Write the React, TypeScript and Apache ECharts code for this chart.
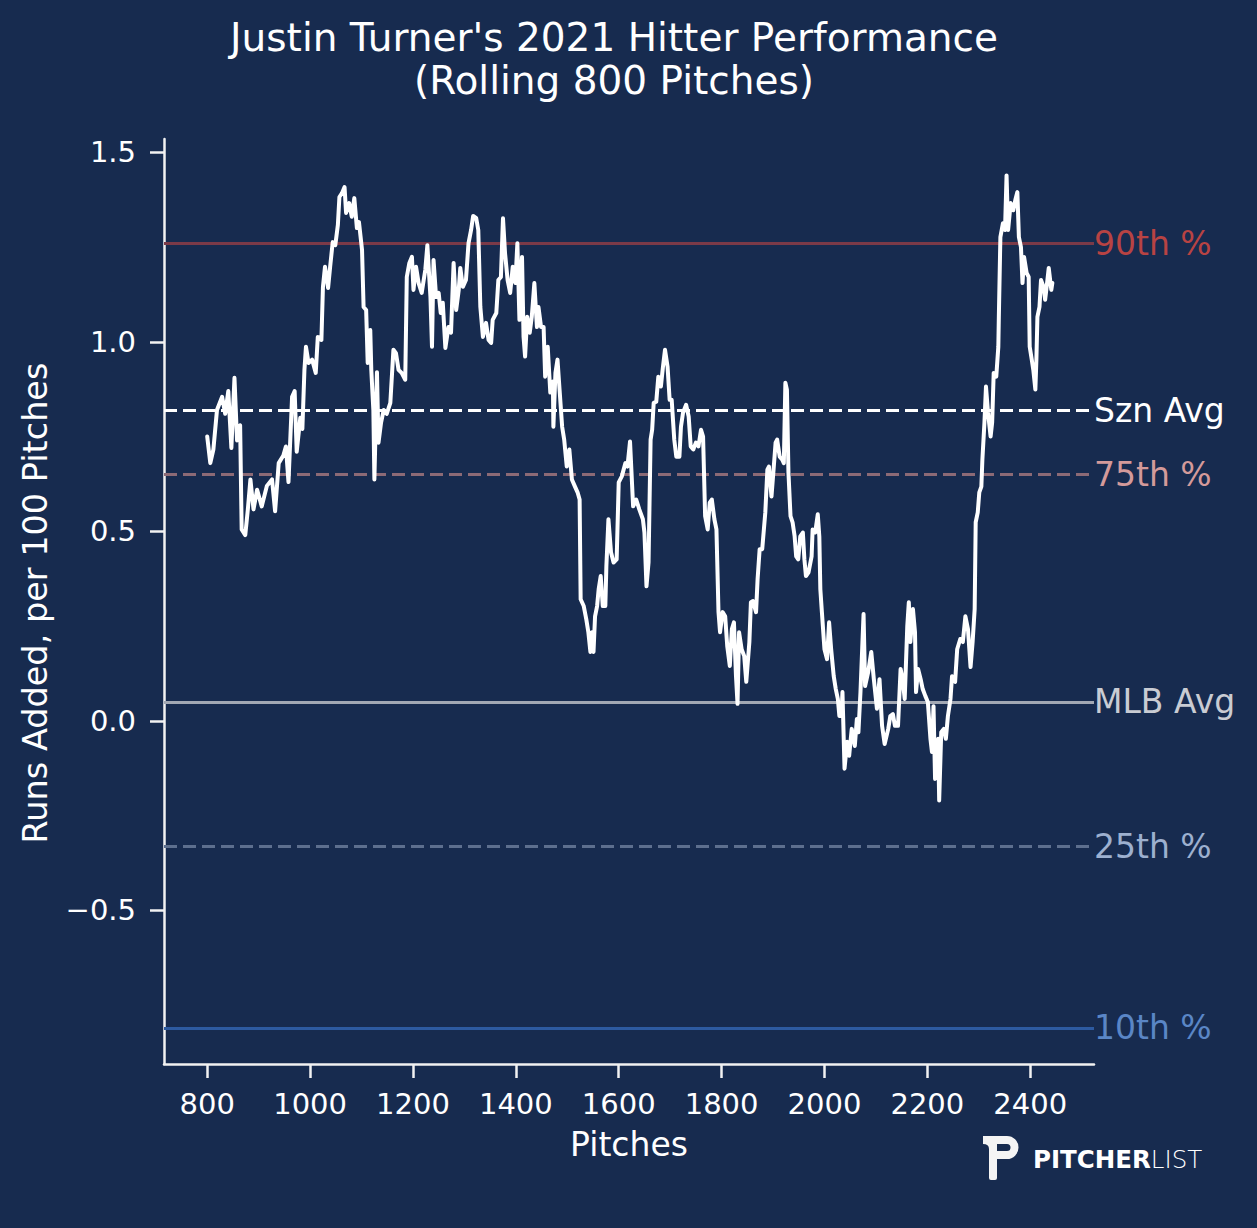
import { useEffect, useRef } from 'react'
import * as echarts from 'echarts'

// chart data
const titleText = "Justin Turner's 2021 Hitter Performance\n(Rolling 800 Pitches)"
const xAxisName = 'Pitches'
const yAxisName = 'Runs Added, per 100 Pitches'
const xTicks = [800, 1000, 1200, 1400, 1600, 1800, 2000, 2200, 2400]
const yTicks = [-0.5, 0, 0.5, 1.0, 1.5]
const refNames = ['90th %', 'Szn Avg', '75th %', 'MLB Avg', '25th %', '10th %']
const refValues = [1.256, 0.823, 0.646, 0.049, -0.325, -0.809]

// [pitch number, runs added per 100 pitches]
const rollingRuns: [number, number][] = [
  [800, 0.75], [806, 0.68], [812, 0.716], [819, 0.82], [829, 0.855], [835, 0.81], [841, 0.87], [847, 0.72],
  [853, 0.905], [858, 0.74], [864, 0.78], [867, 0.505], [874, 0.49], [879, 0.558], [884, 0.637], [890, 0.558],
  [897, 0.61], [906, 0.566], [916, 0.62], [926, 0.637], [932, 0.553], [939, 0.68], [948, 0.7], [953, 0.724],
  [958, 0.63], [965, 0.855], [970, 0.87], [974, 0.71], [981, 0.8], [985, 0.77], [989, 0.926], [992, 0.987],
  [997, 0.944], [1004, 0.953], [1011, 0.918], [1015, 1.013], [1022, 1.005], [1025, 1.145], [1029, 1.198], [1035, 1.142],
  [1039, 1.198], [1044, 1.263], [1049, 1.255], [1054, 1.308], [1057, 1.382], [1062, 1.392], [1067, 1.408], [1070, 1.34],
  [1076, 1.366], [1081, 1.33], [1086, 1.379], [1091, 1.3], [1095, 1.316], [1101, 1.242], [1104, 1.092], [1109, 1.084],
  [1112, 0.944], [1117, 1.031], [1119, 0.926], [1123, 0.82], [1125, 0.637], [1130, 0.92], [1133, 0.734], [1138, 0.787],
  [1143, 0.82], [1149, 0.81], [1156, 0.839], [1162, 0.979], [1167, 0.97], [1172, 0.926], [1178, 0.918], [1185, 0.9],
  [1188, 1.171], [1193, 1.208], [1198, 1.224], [1201, 1.137], [1206, 1.198], [1211, 1.155], [1217, 1.129], [1224, 1.19],
  [1228, 1.255], [1234, 1.118], [1237, 0.987], [1240, 1.216], [1245, 1.118], [1250, 1.129], [1254, 1.076], [1258, 1.103],
  [1263, 0.984], [1269, 1.039], [1274, 1.024], [1279, 1.208], [1284, 1.084], [1289, 1.137], [1292, 1.195], [1297, 1.145],
  [1303, 1.163], [1308, 1.26], [1313, 1.295], [1317, 1.332], [1323, 1.326], [1327, 1.295], [1331, 1.092], [1336, 1.013],
  [1342, 1.05], [1347, 1.005], [1352, 0.997], [1355, 1.058], [1362, 1.076], [1366, 1.163], [1371, 1.171], [1375, 1.326],
  [1379, 1.234], [1384, 1.163], [1389, 1.129], [1394, 1.198], [1399, 1.155], [1403, 1.26], [1407, 1.058], [1412, 1.224],
  [1415, 1.013], [1418, 0.961], [1422, 1.066], [1427, 1.024], [1431, 1.066], [1436, 1.155], [1441, 1.039], [1444, 1.092],
  [1449, 1.039], [1454, 1.039], [1457, 0.908], [1462, 0.987], [1467, 0.866], [1472, 0.895], [1473, 0.776], [1477, 0.918],
  [1481, 0.953], [1485, 0.874], [1490, 0.776], [1494, 0.742], [1499, 0.671], [1504, 0.716], [1509, 0.637], [1515, 0.618],
  [1520, 0.603], [1524, 0.584], [1526, 0.321], [1532, 0.303], [1537, 0.268], [1541, 0.234], [1545, 0.182], [1548, 0.234],
  [1551, 0.182], [1554, 0.276], [1558, 0.303], [1561, 0.347], [1565, 0.382], [1569, 0.303], [1574, 0.303], [1576, 0.408],
  [1580, 0.532], [1585, 0.445], [1590, 0.418], [1596, 0.426], [1600, 0.629], [1606, 0.645], [1613, 0.68], [1617, 0.671],
  [1622, 0.737], [1628, 0.566], [1634, 0.584], [1640, 0.558], [1647, 0.532], [1650, 0.497], [1654, 0.355], [1658, 0.418],
  [1662, 0.742], [1665, 0.768], [1668, 0.839], [1673, 0.842], [1677, 0.908], [1682, 0.882], [1686, 0.934], [1690, 0.979],
  [1695, 0.934], [1699, 0.847], [1703, 0.847], [1708, 0.742], [1712, 0.697], [1718, 0.697], [1721, 0.776], [1725, 0.813],
  [1731, 0.834], [1736, 0.803], [1740, 0.724], [1745, 0.716], [1750, 0.734], [1755, 0.724], [1760, 0.768], [1764, 0.75],
  [1768, 0.54], [1773, 0.505], [1777, 0.576], [1781, 0.584], [1786, 0.532], [1790, 0.505], [1794, 0.287], [1797, 0.234],
  [1802, 0.287], [1807, 0.276], [1811, 0.197], [1816, 0.145], [1820, 0.242], [1824, 0.26], [1828, 0.118], [1831, 0.045],
  [1834, 0.234], [1839, 0.189], [1844, 0.171], [1848, 0.103], [1854, 0.208], [1857, 0.313], [1861, 0.316], [1867, 0.287],
  [1870, 0.374], [1874, 0.453], [1879, 0.453], [1885, 0.55], [1889, 0.663], [1892, 0.671], [1897, 0.592], [1902, 0.68],
  [1905, 0.734], [1908, 0.742], [1913, 0.697], [1918, 0.689], [1921, 0.68], [1924, 0.892], [1927, 0.874], [1930, 0.655],
  [1934, 0.54], [1938, 0.524], [1942, 0.487], [1945, 0.434], [1949, 0.426], [1953, 0.487], [1958, 0.497], [1961, 0.426],
  [1964, 0.382], [1969, 0.392], [1975, 0.434], [1977, 0.505], [1982, 0.497], [1987, 0.545], [1990, 0.487], [1992, 0.347],
  [1995, 0.287], [2000, 0.189], [2005, 0.163], [2009, 0.26], [2013, 0.189], [2018, 0.118], [2022, 0.084], [2026, 0.058],
  [2029, 0.013], [2033, 0.013], [2035, 0.076], [2039, -0.126], [2044, -0.055], [2048, -0.092], [2053, -0.021], [2059, -0.066],
  [2063, 0.005], [2066, -0.03], [2070, 0.076], [2076, 0.282], [2079, 0.092], [2085, 0.129], [2091, 0.182], [2096, 0.11],
  [2102, 0.032], [2107, 0.11], [2112, -0.013], [2117, -0.061], [2124, -0.021], [2128, 0.013], [2133, 0.018], [2137, -0.013],
  [2143, -0.013], [2148, 0.137], [2152, 0.11], [2156, 0.058], [2161, 0.25], [2164, 0.313], [2167, 0.208], [2172, 0.295],
  [2176, 0.234], [2178, 0.076], [2182, 0.137], [2187, 0.11], [2191, 0.084], [2196, 0.066], [2201, 0.05], [2206, -0.047],
  [2209, -0.082], [2212, 0.039], [2215, -0.153], [2221, -0.047], [2223, -0.21], [2227, -0.03], [2232, -0.021], [2236, -0.047],
  [2240, 0.013], [2245, 0.058], [2248, 0.118], [2254, 0.103], [2258, 0.189], [2264, 0.216], [2269, 0.208], [2274, 0.276],
  [2279, 0.242], [2284, 0.142], [2288, 0.208], [2292, 0.295], [2294, 0.524], [2298, 0.55], [2301, 0.603], [2305, 0.618],
  [2307, 0.689], [2311, 0.787], [2314, 0.882], [2318, 0.813], [2323, 0.75], [2326, 0.787], [2329, 0.918], [2334, 0.908],
  [2338, 0.987], [2339, 1.066], [2342, 1.276], [2347, 1.313], [2351, 1.295], [2354, 1.439], [2357, 1.295], [2362, 1.366],
  [2367, 1.347], [2371, 1.374], [2375, 1.395], [2378, 1.276], [2382, 1.25], [2385, 1.155], [2388, 1.224], [2393, 1.182],
  [2397, 1.171], [2399, 0.987], [2403, 0.953], [2406, 0.926], [2410, 0.874], [2412, 0.953], [2414, 1.066], [2418, 1.092],
  [2421, 1.163], [2426, 1.145], [2429, 1.111], [2432, 1.145], [2436, 1.195], [2441, 1.137], [2443, 1.155]
]

const BG = '#172b4f'
const FONT = '"DejaVu Sans", sans-serif'
const AXIS_COLOR = '#f2f2f2'

// line colour, label colour, dashed or not — same order as refNames
const refStyles = [
  { line: '#7b3a48', text: '#b84343', dashed: false },
  { line: '#ffffff', text: '#ffffff', dashed: true },
  { line: '#8c6a76', text: '#d49a9a', dashed: true },
  { line: '#a2a8b4', text: '#c9ccd3', dashed: false },
  { line: '#5d6f8e', text: '#9db0cf', dashed: true },
  { line: '#2d5aa0', text: '#5a86c6', dashed: false }
]

// Pitcher List "P" mark
const LOGO_PATH =
  'M0 0 H24 A11.5 11.5 0 0 1 24 23 H14 V42 Q14 44 12 44 H8 Q6 44 6 42 V13 Q6 8 0 8 Z ' +
  'M14 8 V15 H24 A3.5 3.5 0 0 0 24 8 Z'

let logoRegistered = false
function registerLogo() {
  if (logoRegistered) return
  echarts.graphic.registerShape('plLogo', echarts.graphic.extendPath(LOGO_PATH, {}))
  logoRegistered = true
}

function formatY(v: number): string {
  return (v < 0 ? '\u2212' : '') + Math.abs(v).toFixed(1)
}

export default function App() {
  const chartRef = useRef<HTMLDivElement>(null)

  useEffect(() => {
    document.body.style.margin = '0'
    document.body.style.background = BG
    const host = chartRef.current
    if (!host) return

    registerLogo()
    const chart = echarts.init(host, null, { renderer: 'svg' })

    const option: echarts.EChartsOption = {
      animation: false,
      backgroundColor: BG,
      textStyle: { fontFamily: FONT },
      grid: { left: 164, top: 139, width: 930, height: 925 },
      xAxis: {
        type: 'value',
        min: 716,
        max: 2524,
        axisLine: { show: true, onZero: false, lineStyle: { color: AXIS_COLOR, width: 2.5 } },
        axisTick: {
          show: true,
          customValues: xTicks,
          length: 14,
          lineStyle: { color: AXIS_COLOR, width: 2.5 }
        },
        axisLabel: {
          customValues: xTicks,
          color: '#ffffff',
          fontSize: 29,
          fontFamily: FONT,
          margin: 25,
          formatter: (v: number) => String(v)
        },
        splitLine: { show: false }
      },
      yAxis: {
        type: 'value',
        min: -0.905,
        max: 1.535,
        axisLine: { show: true, onZero: false, lineStyle: { color: AXIS_COLOR, width: 2.5 } },
        axisTick: {
          show: true,
          customValues: yTicks,
          length: 14,
          lineStyle: { color: AXIS_COLOR, width: 2.5 }
        },
        axisLabel: {
          customValues: yTicks,
          color: '#ffffff',
          fontSize: 29,
          fontFamily: FONT,
          margin: 28,
          formatter: (v: number) => formatY(v)
        },
        splitLine: { show: false }
      },
      series: [
        {
          // reference lines, drawn under the rolling line
          type: 'line',
          data: [],
          silent: true,
          z: 2,
          markLine: {
            silent: true,
            symbol: ['none', 'none'],
            data: refValues.map((v, i) => ({
              yAxis: v,
              name: refNames[i],
              lineStyle: {
                color: refStyles[i].line,
                width: 3,
                type: refStyles[i].dashed ? [13, 6] : 'solid'
              },
              label: {
                show: true,
                position: 'end',
                distance: 0,
                formatter: refNames[i],
                color: refStyles[i].text,
                fontSize: 33,
                fontFamily: FONT
              }
            }))
          }
        },
        {
          type: 'line',
          data: rollingRuns,
          z: 5,
          silent: true,
          showSymbol: false,
          symbol: 'none',
          lineStyle: { color: '#ffffff', width: 4, join: 'round', cap: 'round' }
        }
      ],
      graphic: [
        {
          type: 'text',
          x: 614,
          y: 59,
          style: {
            text: titleText,
            fill: '#ffffff',
            fontSize: 39,
            lineHeight: 43,
            fontFamily: FONT,
            textAlign: 'center',
            textVerticalAlign: 'middle'
          }
        },
        {
          type: 'text',
          x: 35,
          y: 603,
          rotation: Math.PI / 2,
          style: {
            text: yAxisName,
            fill: '#ffffff',
            fontSize: 33.5,
            fontFamily: FONT,
            textAlign: 'center',
            textVerticalAlign: 'middle'
          }
        },
        {
          type: 'text',
          x: 629,
          y: 1144,
          style: {
            text: xAxisName,
            fill: '#ffffff',
            fontSize: 33,
            fontFamily: FONT,
            textAlign: 'center',
            textVerticalAlign: 'middle'
          }
        },
        {
          type: 'plLogo',
          x: 983,
          y: 1136,
          style: { fill: '#f4f4f4' }
        } as any,
        {
          type: 'text',
          x: 1033,
          y: 1159,
          style: {
            text: '{b|PITCHER}{l|LIST}',
            textVerticalAlign: 'middle',
            rich: {
              b: { fontFamily: FONT, fontWeight: 'bold', fontSize: 24.5, fill: '#ffffff' },
              l: { fontFamily: '"DejaVu Sans ExtraLight", "DejaVu Sans", sans-serif', fontWeight: 200, fontSize: 24.5, fill: '#ffffff' }
            }
          }
        } as any
      ]
    }

    chart.setOption(option)

    return () => {
      chart.dispose()
    }
  }, [])

  return <div ref={chartRef} style={{ width: 1257, height: 1228 }} />
}
